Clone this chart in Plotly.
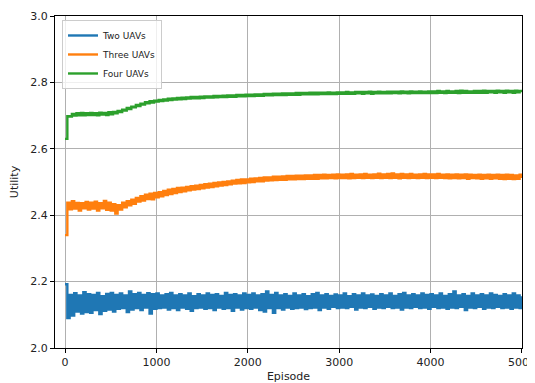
import plotly.graph_objects as go

EPISODES = list(range(0, 5001, 25))

TWO_UAVS = [
    2.192, 2.090, 2.160, 2.098, 2.165, 2.110, 2.158, 2.104, 2.168, 2.108,
    2.162, 2.106, 2.160, 2.114, 2.166, 2.102, 2.156, 2.112, 2.163, 2.116,
    2.166, 2.110, 2.160, 2.118, 2.164, 2.120, 2.158, 2.108, 2.170, 2.116,
    2.162, 2.120, 2.166, 2.114, 2.160, 2.122, 2.165, 2.104, 2.162, 2.118,
    2.164, 2.120, 2.158, 2.122, 2.162, 2.116, 2.166, 2.120, 2.158, 2.114,
    2.162, 2.122, 2.158, 2.118, 2.164, 2.112, 2.156, 2.120, 2.162, 2.122,
    2.158, 2.118, 2.164, 2.120, 2.160, 2.114, 2.162, 2.122, 2.157, 2.118,
    2.166, 2.120, 2.160, 2.112, 2.162, 2.122, 2.158, 2.116, 2.164, 2.120,
    2.160, 2.118, 2.164, 2.122, 2.158, 2.114, 2.162, 2.110, 2.170, 2.120,
    2.160, 2.106, 2.166, 2.120, 2.158, 2.116, 2.162, 2.122, 2.157, 2.118,
    2.164, 2.120, 2.158, 2.122, 2.162, 2.117, 2.156, 2.120, 2.162, 2.122,
    2.166, 2.114, 2.158, 2.122, 2.162, 2.118, 2.157, 2.124, 2.161, 2.120,
    2.158, 2.122, 2.164, 2.120, 2.156, 2.124, 2.162, 2.116, 2.158, 2.122,
    2.164, 2.120, 2.158, 2.124, 2.161, 2.118, 2.157, 2.122, 2.162, 2.120,
    2.158, 2.124, 2.164, 2.120, 2.157, 2.122, 2.162, 2.116, 2.166, 2.122,
    2.158, 2.120, 2.162, 2.124, 2.158, 2.120, 2.164, 2.122, 2.160, 2.118,
    2.162, 2.124, 2.158, 2.120, 2.164, 2.122, 2.157, 2.118, 2.162, 2.122,
    2.170, 2.120, 2.158, 2.124, 2.162, 2.114, 2.157, 2.122, 2.164, 2.120,
    2.158, 2.124, 2.162, 2.118, 2.158, 2.122, 2.164, 2.120, 2.160, 2.124,
    2.157, 2.120, 2.162, 2.122, 2.158, 2.118, 2.164, 2.122, 2.158, 2.120,
    2.156,
]

THREE_UAVS = [
    2.340, 2.438, 2.418, 2.442, 2.420, 2.437, 2.414, 2.436, 2.421, 2.440,
    2.417, 2.438, 2.420, 2.441, 2.414, 2.436, 2.421, 2.443, 2.416, 2.438,
    2.414, 2.433, 2.405, 2.430, 2.417, 2.438, 2.424, 2.442, 2.430, 2.447,
    2.434, 2.452, 2.441, 2.457, 2.444, 2.462, 2.449, 2.465, 2.448, 2.467,
    2.454, 2.469, 2.457, 2.473, 2.461, 2.477, 2.464, 2.479, 2.467, 2.482,
    2.470, 2.483, 2.472, 2.485, 2.475, 2.487, 2.477, 2.489, 2.479, 2.491,
    2.481, 2.493, 2.483, 2.495, 2.485, 2.497, 2.487, 2.499, 2.489, 2.500,
    2.491, 2.502, 2.493, 2.504, 2.495, 2.506, 2.496, 2.508, 2.497, 2.508,
    2.499, 2.510, 2.500, 2.511, 2.502, 2.512, 2.502, 2.514, 2.504, 2.514,
    2.505, 2.516, 2.506, 2.516, 2.507, 2.517, 2.507, 2.518, 2.508, 2.518,
    2.508, 2.519, 2.509, 2.519, 2.509, 2.520, 2.510, 2.520, 2.510, 2.521,
    2.510, 2.521, 2.511, 2.522, 2.511, 2.521, 2.512, 2.522, 2.511, 2.523,
    2.512, 2.522, 2.512, 2.523, 2.511, 2.524, 2.512, 2.522, 2.513, 2.523,
    2.512, 2.524, 2.513, 2.522, 2.512, 2.523, 2.513, 2.525, 2.512, 2.523,
    2.513, 2.524, 2.512, 2.526, 2.513, 2.523, 2.511, 2.524, 2.513, 2.523,
    2.512, 2.524, 2.513, 2.522, 2.512, 2.523, 2.513, 2.524, 2.512, 2.523,
    2.513, 2.523, 2.512, 2.524, 2.513, 2.522, 2.512, 2.523, 2.511, 2.522,
    2.512, 2.523, 2.511, 2.522, 2.512, 2.523, 2.510, 2.522, 2.512, 2.521,
    2.511, 2.522, 2.510, 2.521, 2.511, 2.522, 2.510, 2.521, 2.511, 2.522,
    2.510, 2.521, 2.509, 2.522, 2.510, 2.521, 2.509, 2.520, 2.510, 2.522,
    2.512,
]

FOUR_UAVS = [
    2.630, 2.698, 2.697, 2.705, 2.700, 2.707, 2.701, 2.708, 2.701, 2.707,
    2.702, 2.708, 2.702, 2.707, 2.701, 2.709, 2.703, 2.708, 2.702, 2.710,
    2.704, 2.711, 2.707, 2.714, 2.711, 2.718, 2.715, 2.723, 2.720, 2.727,
    2.725, 2.732, 2.729, 2.736, 2.733, 2.740, 2.737, 2.743, 2.739, 2.745,
    2.742, 2.747, 2.744, 2.749, 2.745, 2.751, 2.747, 2.752, 2.748, 2.753,
    2.749, 2.754, 2.750, 2.755, 2.751, 2.756, 2.752, 2.756, 2.752, 2.757,
    2.753, 2.758, 2.754, 2.758, 2.754, 2.759, 2.755, 2.759, 2.756, 2.760,
    2.756, 2.761, 2.757, 2.761, 2.757, 2.762, 2.758, 2.762, 2.758, 2.763,
    2.759, 2.763, 2.759, 2.764, 2.760, 2.764, 2.760, 2.765, 2.761, 2.765,
    2.761, 2.766, 2.762, 2.766, 2.762, 2.767, 2.762, 2.767, 2.763, 2.767,
    2.763, 2.768, 2.763, 2.768, 2.764, 2.768, 2.764, 2.769, 2.764, 2.769,
    2.764, 2.769, 2.765, 2.769, 2.765, 2.770, 2.765, 2.769, 2.765, 2.770,
    2.766, 2.770, 2.766, 2.771, 2.766, 2.770, 2.766, 2.771, 2.767, 2.771,
    2.766, 2.771, 2.767, 2.772, 2.766, 2.771, 2.767, 2.772, 2.767, 2.771,
    2.767, 2.772, 2.767, 2.772, 2.768, 2.772, 2.767, 2.773, 2.768, 2.772,
    2.767, 2.773, 2.768, 2.772, 2.768, 2.773, 2.768, 2.772, 2.768, 2.773,
    2.768, 2.773, 2.768, 2.774, 2.769, 2.773, 2.768, 2.774, 2.769, 2.773,
    2.769, 2.774, 2.768, 2.775, 2.769, 2.774, 2.769, 2.773, 2.769, 2.774,
    2.769, 2.774, 2.769, 2.775, 2.769, 2.774, 2.770, 2.774, 2.769, 2.775,
    2.770, 2.774, 2.769, 2.775, 2.770, 2.774, 2.769, 2.775, 2.770, 2.774,
    2.771,
]

SERIES_NAMES = ["Two UAVs", "Three UAVs", "Four UAVs"]
SERIES_COLORS = ["#1f77b4", "#ff7f0e", "#2ca02c"]
X_TICKS = [0, 1000, 2000, 3000, 4000, 5000]
Y_TICKS = [2.0, 2.2, 2.4, 2.6, 2.8, 3.0]

fig = go.Figure()
for name, vals, col in zip(SERIES_NAMES, [TWO_UAVS, THREE_UAVS, FOUR_UAVS], SERIES_COLORS):
    fig.add_trace(go.Scatter(
        x=EPISODES[:len(vals)], y=vals, mode="lines", name=name,
        line=dict(color=col, width=2.4, shape="hv"),
    ))

axis_common = dict(
    showline=True, mirror=True, linecolor="black", linewidth=1,
    ticks="outside", ticklen=4, tickcolor="black", tickwidth=1,
    showgrid=True, gridcolor="#b0b0b0", gridwidth=0.8,
    zeroline=False, automargin=False, ticklabeloverflow="allow",
    tickfont=dict(family="DejaVu Sans", size=11, color="#222222"),
)

# the page body adds an 8px offset; the figure is positioned to compensate
fig.update_layout(
    width=527, height=375,
    margin=dict(l=47, r=13, t=8, b=35),
    paper_bgcolor="white", plot_bgcolor="white",
    font=dict(family="DejaVu Sans", size=11, color="#222222"),
    showlegend=True,
    legend=dict(
        x=0.015, y=0.988, xanchor="left", yanchor="top",
        bgcolor="rgba(255,255,255,0.8)", bordercolor="#cccccc", borderwidth=1,
        font=dict(family="DejaVu Sans", size=9, color="#222222"),
        itemwidth=30,
    ),
    xaxis=dict(
        range=[-110, 5001], tickvals=X_TICKS,
        title=dict(text="Episode", standoff=4, font=dict(size=11)),
        **axis_common,
    ),
    yaxis=dict(
        range=[2.0, 3.0], tickvals=Y_TICKS, tickformat=".1f",
        title=dict(text="Utility", standoff=13, font=dict(size=11)),
        **axis_common,
    ),
)

fig.write_html("out.html")
